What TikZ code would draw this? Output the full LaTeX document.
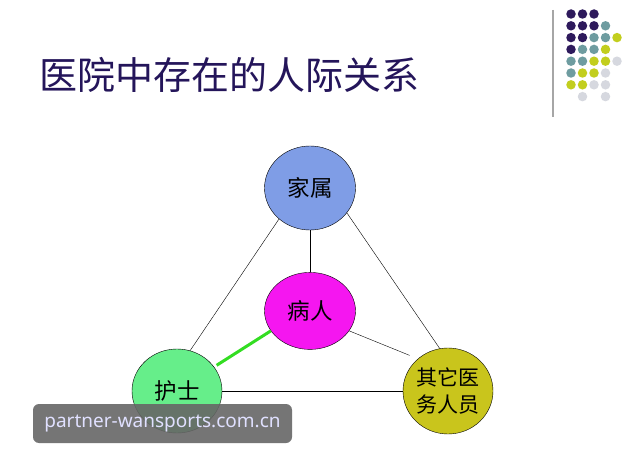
\documentclass[tikz,border=0pt]{standalone}
\usepackage{fontspec}
\newfontfamily\cjk{Noto Sans CJK SC}
\newfontfamily\wmfont{Noto Sans}
\usetikzlibrary{positioning, shapes.geometric}

\definecolor{titleblue}{HTML}{24155A}
\definecolor{dotnavy}{HTML}{2E1A5C}
\definecolor{dotteal}{HTML}{6E9CA0}
\definecolor{dotlime}{HTML}{C2CE1E}
\definecolor{dotgray}{HTML}{D6D8DF}
\definecolor{familyblue}{HTML}{7F9DE6}
\definecolor{patientpink}{HTML}{F516F0}
\definecolor{nursegreen}{HTML}{66EE8A}
\definecolor{staffolive}{HTML}{C9C51C}
\definecolor{linkgreen}{HTML}{33DD22}

\begin{document}
\begin{tikzpicture}[
    x=1pt, y=-1pt,
    person/.style={ellipse, draw, thin, minimum width=91pt, minimum height=84pt, inner sep=0pt, align=center, font=\cjk\fontsize{22.5}{27}\selectfont},
    link/.style={draw, thin},
    dot/.style={circle, fill, inner sep=0pt, minimum size=9.5pt}
]
\useasboundingbox (0,0) rectangle (635,476);
\fill[white] (0,0) rectangle (635,476);

% Title
\node[anchor=west, text=titleblue, font=\cjk\fontsize{38}{44}\selectfont, inner sep=0pt] (title) at (39,75) {医院中存在的人际关系};

% Corner decoration
\draw[gray!70, line width=1.2pt] (553,10) -- (553,117);
\foreach \row/\cols in {0/{0/dotnavy,1/dotnavy,2/dotnavy},
                        1/{0/dotnavy,1/dotnavy,2/dotnavy,3/dotteal},
                        2/{0/dotnavy,1/dotnavy,2/dotteal,3/dotteal,4/dotlime},
                        3/{0/dotnavy,1/dotteal,2/dotteal,3/dotlime},
                        4/{0/dotteal,1/dotteal,2/dotlime,3/dotlime,4/dotgray},
                        5/{0/dotteal,1/dotlime,2/dotlime,3/dotgray},
                        6/{0/dotlime,1/dotlime,2/dotgray,3/dotgray},
                        7/{1/dotgray,3/dotgray}}
  \foreach \col/\clr in \cols
    \node[dot, fill=\clr] at ({571+11.5*\col},{14+11.8*\row}) {};

% Nodes
\node[person, fill=familyblue] (family) at (310,188) {家属};
\node[person, fill=patientpink, minimum height=77pt, below=42pt of family] (patient) {病人};
\node[person, fill=nursegreen, minimum width=90pt] (nurse) at (177,391) {护士};
\node[person, fill=staffolive, minimum width=90pt, minimum height=86pt, font=\cjk\fontsize{21}{27}\selectfont] (staff) at (448,391) {其它医\\务人员};

% Connections
\draw[link] (family.-135) -- (nurse.72);
\draw[link] (family.-34) -- (staff.101);
\draw[link] (family) -- (patient);
\draw[link, shorten >=9pt] (patient.-27) -- (staff.133);
\draw[link] (nurse) -- (staff);
\draw[link, linkgreen, line width=3pt, shorten >=3pt] (patient.-153) -- (nurse.33);

% Watermark
\node[fill=black!60, fill opacity=0.9, text opacity=1, rounded corners=6pt, minimum width=259pt, minimum height=39pt, text=white!88!blue, font=\wmfont\fontsize{19}{22}\selectfont] (mark) at (162.5,423.5) {partner-wansports.com.cn};
\end{tikzpicture}
\end{document}
